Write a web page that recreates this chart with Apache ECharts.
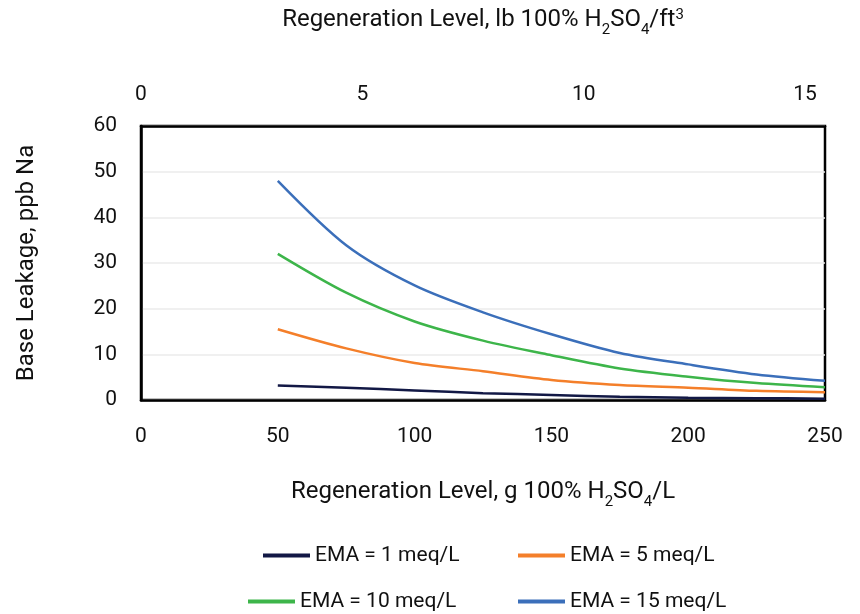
<!DOCTYPE html>
<html>
<head>
<meta charset="utf-8">
<script src="https://cdn.jsdelivr.net/npm/echarts@6/dist/echarts.min.js"></script>
<style>
  html, body { margin: 0; padding: 0; background: #fff; }
  #chart { width: 860px; height: 614px; }
</style>
</head>
<body>
<div id="chart"></div>
<script>
// regeneration level, g 100% H2SO4/L
const regen = [50, 75, 100, 125, 150, 175, 200, 225, 250]
// base leakage, ppb Na
const ema1 = [3.2, 2.7, 2.1, 1.5, 1.1, 0.7, 0.5, 0.4, 0.3]
const ema5 = [15.5, 11.3, 8.1, 6.3, 4.4, 3.3, 2.7, 2.0, 1.7]
const ema10 = [32, 23.5, 17.2, 13.0, 9.8, 6.9, 5.1, 3.7, 2.8]
const ema15 = [48, 33.9, 25.1, 19.2, 14.4, 10.3, 7.8, 5.6, 4.2]
const seriesNames = ['EMA = 1 meq/L', 'EMA = 5 meq/L', 'EMA = 10 meq/L', 'EMA = 15 meq/L']
const colors = ['#121845', '#f47f2a', '#3db54a', '#3b6fba']

const font = 'Roboto'
const rich = {
  a: { fontSize: 24, fontFamily: font, color: '#111', lineHeight: 30, verticalAlign: 'top' },
  s: { fontSize: 15, fontFamily: font, color: '#111', lineHeight: 14, verticalAlign: 'bottom' },
  p: { fontSize: 15, fontFamily: font, color: '#111', lineHeight: 30, verticalAlign: 'top' }
}

const chart = echarts.init(document.getElementById('chart'))

const pairs = arr => regen.map((x, i) => [x, arr[i]])

// one legend per item so they sit like the reference
const legendPos = [
  { left: 258, top: 540 },
  { left: 513, top: 540 },
  { left: 243, top: 586 },
  { left: 513, top: 586 }
]

chart.setOption({
  animation: false,
  grid: {
    left: 141, right: 35, top: 126, bottom: 214,
    show: true, borderColor: '#000', borderWidth: 2.5
  },
  legend: seriesNames.map((n, i) => ({
    data: [n],
    left: legendPos[i].left,
    top: legendPos[i].top,
    icon: 'rect',
    itemWidth: 47,
    itemHeight: 4,
    itemGap: 11,
    textStyle: { fontSize: 21, fontFamily: font, color: '#111' }
  })),
  xAxis: [
    {
      type: 'value', min: 0, max: 250, interval: 50, position: 'bottom',
      axisLine: { show: true, lineStyle: { color: '#000', width: 2.5 } },
      axisTick: { show: false },
      splitLine: { show: false },
      axisLabel: { fontSize: 21, fontFamily: font, color: '#111', margin: 26 },
      name: '{a|Regeneration Level, g 100% H}{s|2}{a|SO}{s|4}{a|/L}',
      nameLocation: 'middle', nameGap: 80,
      nameTextStyle: { rich: rich }
    },
    {
      type: 'value', min: 0, max: 15.45, interval: 5, position: 'top',
      axisLine: { show: true, lineStyle: { color: '#000', width: 2.5 } },
      axisTick: { show: false },
      splitLine: { show: false },
      axisLabel: {
        fontSize: 21, fontFamily: font, color: '#111', margin: 21,
        formatter: v => (v % 5 === 0 ? String(v) : '')
      },
      name: '{a|Regeneration Level, lb 100% H}{s|2}{a|SO}{s|4}{a|/ft}{p|3}',
      nameLocation: 'middle', nameGap: 88,
      nameTextStyle: { rich: rich }
    }
  ],
  yAxis: {
    type: 'value', min: 0, max: 60, interval: 10,
    axisLine: { show: true, lineStyle: { color: '#000', width: 2.5 } },
    axisTick: { show: false },
    splitLine: { show: true, lineStyle: { color: '#ebebeb', width: 1.5 } },
    axisLabel: { fontSize: 21, fontFamily: font, color: '#111', margin: 24 },
    name: 'Base Leakage, ppb Na',
    nameLocation: 'middle', nameGap: 102,
    nameTextStyle: { fontSize: 24, fontFamily: font, color: '#111' }
  },
  series: [ema1, ema5, ema10, ema15].map((arr, i) => ({
    name: seriesNames[i],
    type: 'line',
    xAxisIndex: 0,
    smooth: 0.3,
    showSymbol: false,
    data: pairs(arr),
    itemStyle: { color: colors[i] },
    lineStyle: { color: colors[i], width: 2.5 }
  }))
})
</script>
</body>
</html>
